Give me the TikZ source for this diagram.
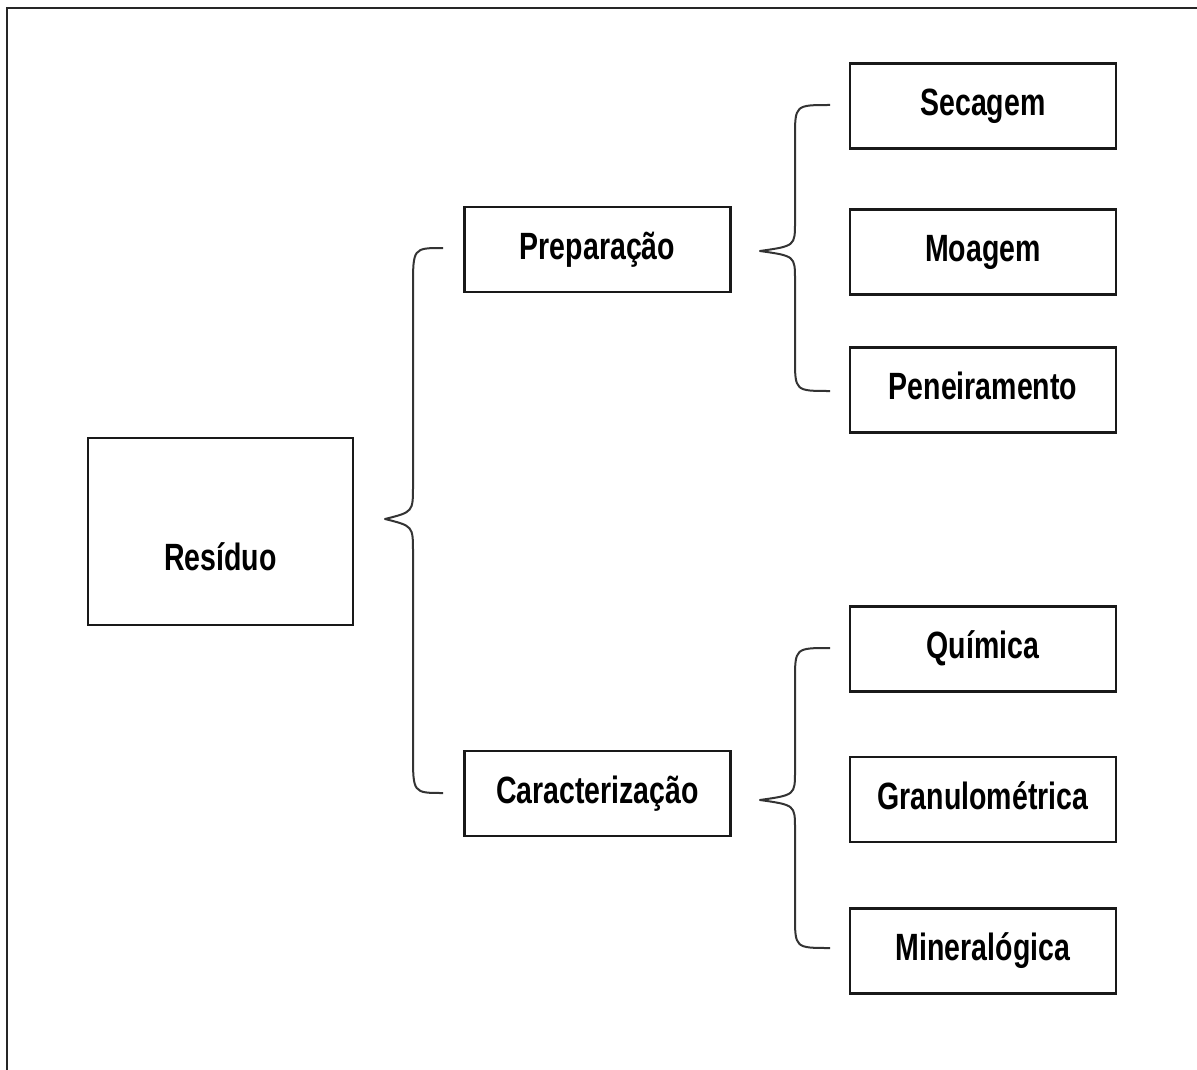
\documentclass[tikz,border=0pt]{standalone}
\usepackage{fontspec}
\setmainfont{Liberation Sans}[FakeStretch=0.75]
\begin{document}
\begin{tikzpicture}[x=1pt,y=-1pt,
  box/.style={draw=black!90, line width=2.2pt, minimum width=266pt, minimum height=85pt,
    inner sep=0pt, font=\fontsize{38}{40}\selectfont\bfseries, text height=27pt, text depth=8pt},
  lbl/.style={inner sep=0pt, font=\fontsize{38}{40}\selectfont\bfseries},
  brace/.style={draw=black!80, line width=2pt, line join=round}]
\useasboundingbox (0,0) rectangle (1197,1070);
\draw[line width=2.8pt, black!85] (7,1075) -- (7,8) -- (1200,8);
% boxes
\node[box, minimum width=265pt, minimum height=187pt] (res) at (220.5,531.5) {};
\node[lbl] (reslbl) at ([yshift=-25pt]res.center) {Resíduo};
\node[box] (prep) at (597.5,249.5) {Preparação};
\node[box] (car) at (597.5,793.5) {Caracterização};
\node[box] (sec) at (983,106) {Secagem};
\node[box] (moa) at (983,252) {Moagem};
\node[box] (pen) at (983,390) {Peneiramento};
\node[box] (qui) at (983,649) {Química};
\node[box] (gra) at (983,799.5) {Granulométrica};
\node[box] (min) at (983,951) {Mineralógica};
% brace anchor points
\coordinate (b1tip) at (385,519);
\coordinate (b1top) at (443,248);
\coordinate (b1bot) at (443,793);
\coordinate (b2tip) at (760,251);
\coordinate (b2top) at (830,105);
\coordinate (b2bot) at (830,391);
\coordinate (b3tip) at (760,800);
\coordinate (b3top) at (830,648);
\coordinate (b3bot) at (830,948);
% big brace
\draw[brace] (b1top) .. controls (413,248) .. (413,288) -- (413,486)
  .. controls (413,512) .. (b1tip) .. controls (413,526) .. (413,552) -- (413,753)
  .. controls (413,793) .. (b1bot);
% small braces
\draw[brace] (b2top) .. controls (795,105) .. (795,138) -- (795,222)
  .. controls (795,246) .. (b2tip) .. controls (795,256) .. (795,280) -- (795,358)
  .. controls (795,391) .. (b2bot);
\draw[brace] (b3top) .. controls (795,648) .. (795,681) -- (795,771)
  .. controls (795,795) .. (b3tip) .. controls (795,805) .. (795,829) -- (795,915)
  .. controls (795,948) .. (b3bot);
\end{tikzpicture}
\end{document}
